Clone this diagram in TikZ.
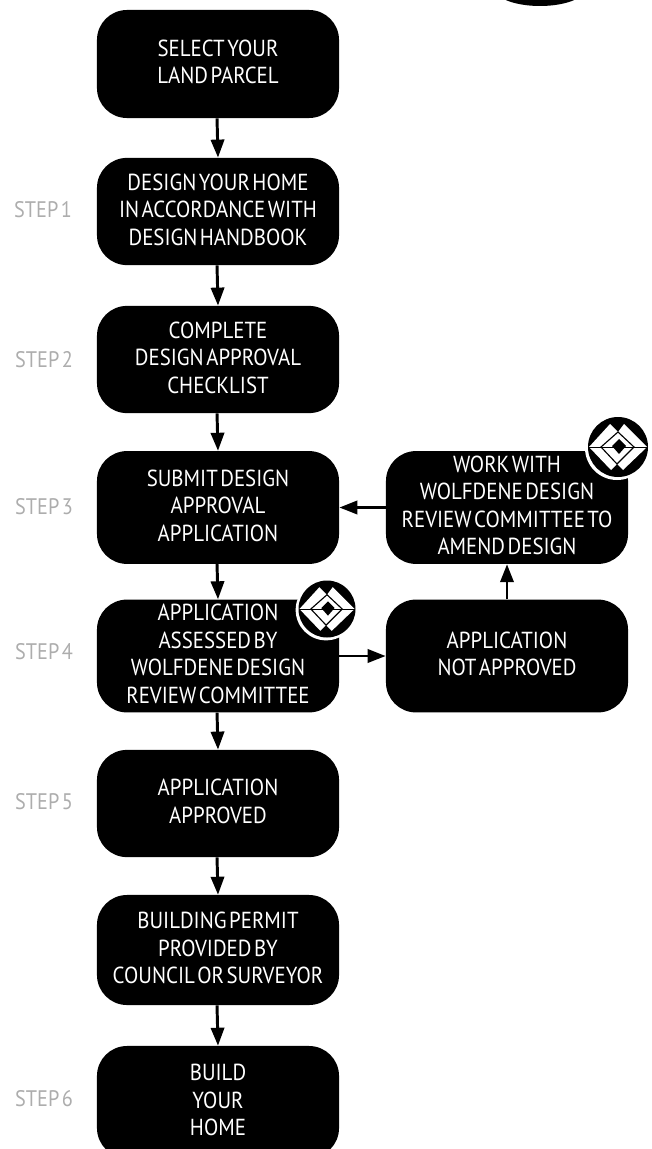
\documentclass[tikz,border=0pt]{standalone}
\usepackage{fontspec}
\setmainfont{PT Sans}[FakeStretch=0.9,WordSpace=0.45]
\usepackage{xcolor}
\usetikzlibrary{arrows.meta}
\definecolor{stepgrey}{gray}{0.68}
\tikzset{
  stagebox/.style={fill=black, text=white, rounded corners=0.75cm, minimum width=6.05cm, minimum height=2.7cm, align=center, font=\fontsize{16.5}{19.6}\selectfont, inner sep=0pt, text depth=3pt},
  steplabel/.style={text=stepgrey, font=\fontsize{16}{16}\selectfont, inner sep=0pt},
  flowarrow/.style={-{Triangle[length=0.45cm,width=0.33cm]}, line width=2.1pt}
}
% badge, drawn in reference pixels round the given point
\newcommand{\wolfbadge}[3]{
  \begin{scope}[shift={(#1,#2)}, scale=#3]
    \fill[white] (-1,1) circle (32);
    \fill[black] (0,0) circle (30);
    \fill[white] (-29,0) -- (-8,-23) -- (0,-15) -- (6,-23) -- (29,0) -- (5,23) -- (-1,17) -- (-7,23) -- cycle;
    \draw[black, line width=0.8pt] (-17,0) -- (0,-15) -- (16,0) -- (-1,17) -- cycle;
    \fill[black] (1,-8) -- (8,-1) -- (1,7) -- (-6,-1) -- cycle;
    \draw[black, line width=0.7pt] (-29,0) -- (29,0);
  \end{scope}
}
\begin{document}
\begin{tikzpicture}[x=0.025cm, y=-0.025cm]
  \useasboundingbox (0,0) rectangle (651,1149);
  \clip (0,0) rectangle (651,1149);

  % ellipse cut by the top edge
  \fill[black] (540,-12) ellipse (46 and 18);

  % main column
  \node[stagebox, minimum height=2.7cm] (parcel) at (218,64) {SELECT YOUR\\LAND PARCEL};
  \node[stagebox, minimum height=2.68cm] (design) at (218,211.5) {DESIGN YOUR HOME\\IN ACCORDANCE WITH\\DESIGN HANDBOOK};
  \node[stagebox, minimum height=2.68cm] (checklist) at (218,359.5) {COMPLETE\\DESIGN APPROVAL\\CHECKLIST};
  \node[stagebox, minimum height=2.82cm] (submit) at (218,507.5) {SUBMIT DESIGN\\APPROVAL\\APPLICATION};
  \node[stagebox, minimum height=2.82cm] (assessed) at (218,656) {APPLICATION\\ASSESSED BY\\WOLFDENE DESIGN\\REVIEW COMMITTEE};
  \node[stagebox, minimum height=2.68cm] (approved) at (218,803.5) {APPLICATION\\APPROVED};
  \node[stagebox, minimum height=2.75cm] (permit) at (218,950) {BUILDING PERMIT\\PROVIDED BY\\COUNCIL OR SURVEYOR};
  \node[stagebox, minimum height=2.8cm] (build) at (218,1102) {BUILD\\YOUR\\HOME};

  % side column
  \node[stagebox, minimum height=2.82cm] (amend) at (507,507.5) {WORK WITH\\WOLFDENE DESIGN\\REVIEW COMMITTEE TO\\AMEND DESIGN};
  \node[stagebox, minimum height=2.82cm] (notapproved) at (507,656) {APPLICATION\\NOT APPROVED};

  % step labels
  \node[steplabel] (stepone) at (43,210) {STEP 1};
  \node[steplabel] (steptwo) at (44,360) {STEP 2};
  \node[steplabel] (stepthree) at (44,507) {STEP 3};
  \node[steplabel] (stepfour) at (44,652) {STEP 4};
  \node[steplabel] (stepfive) at (44,802) {STEP 5};
  \node[steplabel] (stepsix) at (44,1099) {STEP 6};

  \draw[flowarrow] ([xshift=-0.7pt]parcel.south) -- (design.north);
  \draw[flowarrow] ([xshift=-0.7pt]design.south) -- (checklist.north);
  \draw[flowarrow] ([xshift=-0.7pt]checklist.south) -- (submit.north);
  \draw[flowarrow] ([xshift=-0.7pt]submit.south) -- (assessed.north);
  \draw[flowarrow] ([xshift=-0.7pt]assessed.south) -- (approved.north);
  \draw[flowarrow] ([xshift=-0.7pt]approved.south) -- (permit.north);
  \draw[flowarrow] ([xshift=-0.7pt]permit.south) -- (build.north);
  \draw[flowarrow] (assessed) -- (notapproved);
  \draw[flowarrow] (notapproved) -- (amend);
  \draw[flowarrow] (amend) -- (submit);

  \wolfbadge{618}{447}{1}
  \wolfbadge{327}{609}{0.95}
\end{tikzpicture}
\end{document}
